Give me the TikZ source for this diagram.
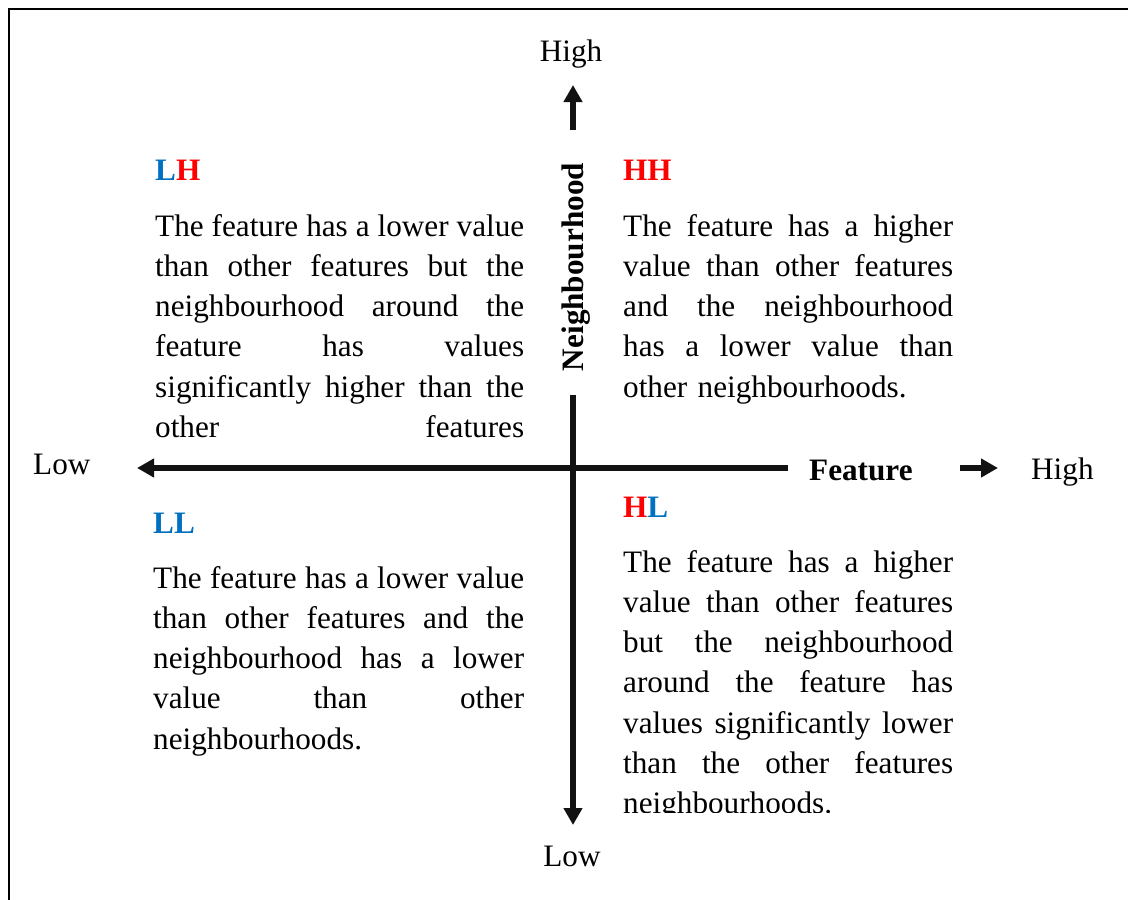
\documentclass[tikz,border=0pt]{standalone}
\usepackage{fontspec}
\setmainfont{Liberation Serif}
\usetikzlibrary{arrows.meta}
\definecolor{qblue}{HTML}{0070C0}
\definecolor{qred}{HTML}{FF0000}
\newcommand{\jl}[2]{\leavevmode\hbox to #1{\spaceskip=0.25em plus 1fil minus 0.08em\relax #2}}
\begin{document}
\begin{tikzpicture}[x=1pt,y=-1pt,
  lbl/.style={font=\fontsize{31.2pt}{40.3pt}\selectfont, inner sep=0pt},
  txt/.style={font=\fontsize{31.2pt}{40.3pt}\selectfont, inner sep=0pt, anchor=base west},
  axisarrow/.style={line width=5.5pt, draw=black!93, -{Triangle[length=17pt,width=18pt]}}
]
\useasboundingbox (0,0) rectangle (1128,900);
\clip (0,0) rectangle (1128,900);
% frame (extends beyond the right and bottom edges)
\draw[line width=2.7pt] (9,1000) -- (9,9) -- (1200,9);

% axis coordinates
\coordinate (hStart) at (788,468);
\coordinate (hTip) at (137,468);
\coordinate (rStart) at (960,468);
\coordinate (rTip) at (998,468);
\coordinate (tStart) at (573,130);
\coordinate (tTip) at (573,85);
\coordinate (bStart) at (573,395);
\coordinate (bTip) at (573,825);

% axis labels
\node[lbl, anchor=base west] (lowL) at (33,474) {Low};
\node[lbl, anchor=base west] (highR) at (1031,479) {High};
\node[lbl, anchor=base west] (feat) at (809,480) {\bfseries Feature};
\node[lbl, anchor=base] (highT) at (571,61) {High};
\node[lbl, anchor=base] (lowB) at (572,866) {Low};
\node[lbl, rotate=90] (nb) at (576,267) {\bfseries Neighbourhood};

% axes
\draw[axisarrow] (hStart) -- (hTip);
\draw[axisarrow] (rStart) -- (rTip);
\draw[axisarrow] (tStart) -- (tTip);
\draw[axisarrow] (bStart) -- (bTip);

% quadrant labels
\node[txt] (lhlab) at (155,180) {\bfseries\textcolor{qblue}{L}\textcolor{qred}{H}};
\node[txt] (hhlab) at (623,180) {\bfseries\textcolor{qred}{HH}};
\node[txt] (lllab) at (153,533) {\bfseries\textcolor{qblue}{LL}};
\node[txt] (hllab) at (623,517) {\bfseries\textcolor{qred}{H}\textcolor{qblue}{L}};

% quadrant texts
\node[txt, text width=369pt] (lhtxt) at (155,236) {%
\jl{369pt}{The feature has a lower value}\\
\jl{369pt}{than other features but the}\\
\jl{369pt}{neighbourhood around the}\\
\jl{369pt}{feature has values}\\
\jl{369pt}{significantly higher than the}\\
\jl{369pt}{other features}};

\node[txt, text width=330pt] (hhtxt) at (623,236) {%
\jl{330pt}{The feature has a higher}\\
\jl{330pt}{value than other features}\\
\jl{330pt}{and the neighbourhood}\\
\jl{330pt}{has a lower value than}\\
other neighbourhoods.};

\node[txt, text width=371pt] (lltxt) at (153,588) {%
\jl{371pt}{The feature has a lower value}\\
\jl{371pt}{than other features and the}\\
\jl{371pt}{neighbourhood has a lower}\\
\jl{371pt}{value than other}\\
neighbourhoods.};

\begin{scope}
\clip (600,540) rectangle (1000,812);
\node[txt, text width=330pt] (hltxt) at (623,572) {%
\jl{330pt}{The feature has a higher}\\
\jl{330pt}{value than other features}\\
\jl{330pt}{but the neighbourhood}\\
\jl{330pt}{around the feature has}\\
\jl{330pt}{values significantly lower}\\
\jl{330pt}{than the other features}\\
neighbourhoods.};
\end{scope}
\end{tikzpicture}
\end{document}
